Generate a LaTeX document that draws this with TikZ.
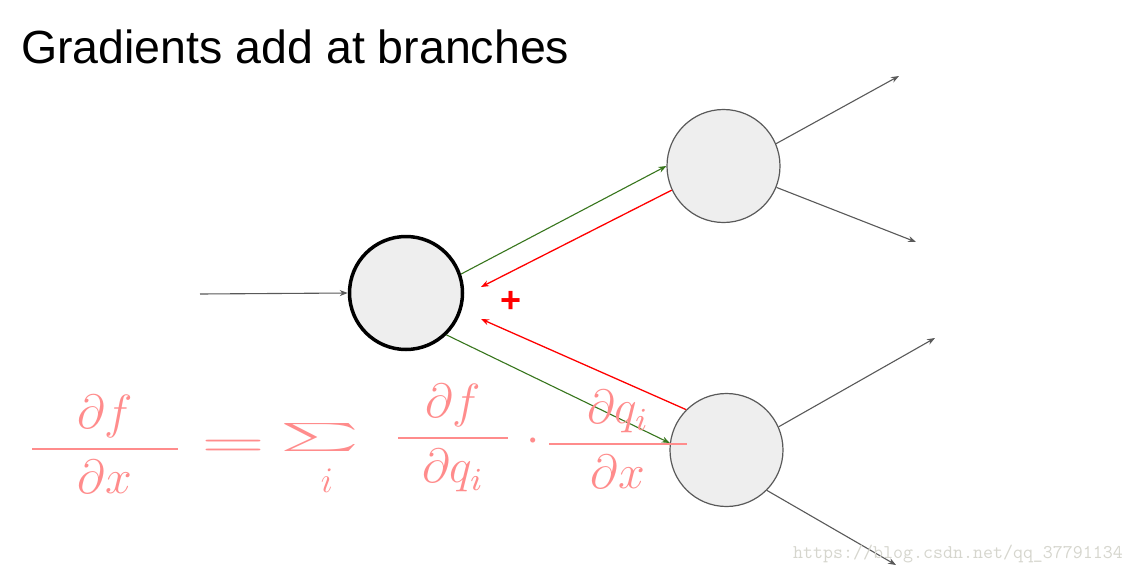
\documentclass[tikz,border=0pt]{standalone}
\usepackage{fontspec}
\usepackage{graphicx}
\usetikzlibrary{arrows.meta}
\newfontfamily\titlefont{Liberation Sans}
\definecolor{nodefill}{HTML}{EEEEEE}
\definecolor{edgegray}{HTML}{595959}
\definecolor{fwdgreen}{HTML}{38761D}
\definecolor{backred}{HTML}{FF0000}
\definecolor{inkred}{HTML}{FF8C8C}
\definecolor{wmgray}{HTML}{D6D6CE}
\begin{document}
\begin{tikzpicture}[x=1pt,y=-1pt,
  gate/.style={circle,draw=edgegray,line width=1.2pt,fill=nodefill,minimum size=113pt,inner sep=0pt},
  maingate/.style={gate,draw=black,line width=3.5pt},
  tip/.style={-{Stealth[length=8pt,width=6pt]}},
  grayedge/.style={tip,draw=edgegray,line width=1.1pt},
  fwd/.style={tip,draw=fwdgreen,line width=1.1pt},
  back/.style={tip,draw=backred,line width=1.3pt},
  ink/.style={text=inkred,inner sep=0pt,anchor=base,font=\fontsize{12}{14}\selectfont}
]
\useasboundingbox (0,0) rectangle (1135,573);
\fill[white] (0,0) rectangle (1135,573);

% title
\node[anchor=base west,inner sep=0pt,font=\titlefont\fontsize{46.5}{56}\selectfont] (title) at (21,63) {Gradients add at branches};

% nodes
\node[maingate] (c) at (406,293) {};
\node[gate] (t) at (723.5,166) {};
\node[gate] (b) at (726.5,450) {};

% free ends
\coordinate (in) at (200,294);
\coordinate (t1) at (899,76);
\coordinate (t2) at (916,242);
\coordinate (b1) at (935,338);
\coordinate (b2) at (896,565);
\coordinate (r1) at (481,287);
\coordinate (r2) at (481,319);

% connectors
\draw[grayedge] (in) -- (c.west);
\draw[grayedge] (t.23) -- (t1);
\draw[grayedge] (t.-22) -- (t2);
\draw[grayedge] (b.24) -- (b1);
\draw[grayedge] (b.-45) -- (b2);
\draw[fwd] (c.19) -- (t.180);
\draw[fwd] (c.-46) -- (b.173);
\draw[back] (t.205) -- (r1);
\draw[back] (b.135) -- (r2);

% plus
\node[text=backred,inner sep=0pt,font=\titlefont\bfseries\fontsize{36}{40}\selectfont] (plus) at (511,302) {+};

% handwritten formula
\node[ink] (f1) at (105,461) {\scalebox{4}{$\displaystyle\frac{\makebox[36.5pt]{$\partial f$}}{\partial x}$}};
\node[ink] (eq) at (233,457) {\scalebox{7}[4]{$=$}};
\node[ink] (sig) at (320,446) {\scalebox{7.5}[2.8]{$\textstyle\sum$}};
\node[ink] (idx) at (327,492) {\scalebox{3}{$i$}};
\node[ink] (f2) at (453,450) {\scalebox{4}{$\displaystyle\frac{\makebox[27.5pt]{$\partial f$}}{\partial q_i}$}};
\node[ink] (dot) at (533,452) {\scalebox{4}{$\cdot$}};
\node[ink] (f3) at (618,456) {\scalebox{4}{$\displaystyle\frac{\makebox[34.3pt]{$\partial q_i$}}{\partial x}$}};

% watermark
\node[anchor=base west,inner sep=0pt,text=wmgray,font=\ttfamily\fontsize{19.4}{22}\selectfont] (wm) at (793,558) {https://blog.csdn.net/qq\_37791134};
\end{tikzpicture}
\end{document}
